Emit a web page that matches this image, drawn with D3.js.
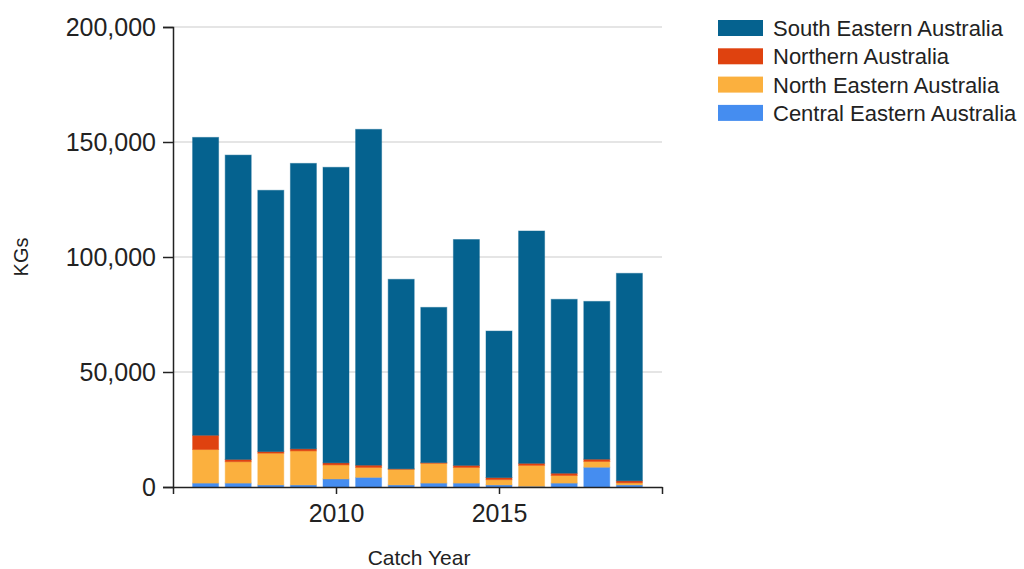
<!DOCTYPE html>
<html>
<head>
<meta charset="utf-8">
<script src="https://cdn.jsdelivr.net/npm/d3@7"></script>
<style>
  body { margin: 0; background: #fff; }
  svg { display: block; font-family: "Liberation Sans", Arial, sans-serif; }
</style>
</head>
<body>
<svg width="1024" height="569"></svg>
<script>
// catch by region, kg
const years = [2006, 2007, 2008, 2009, 2010, 2011, 2012, 2013, 2014, 2015, 2016, 2017, 2018, 2019];
const centralEastern = [1700, 1700, 900, 900, 3500, 4200, 900, 1700, 1700, 900, 300, 1700, 8600, 900];
const northEastern   = [14600, 9300, 13800, 14800, 6100, 4300, 6800, 8600, 6800, 2300, 9100, 3300, 2500, 900];
const northern       = [6200, 1000, 700, 900, 900, 1000, 200, 300, 900, 900, 900, 1000, 1000, 900];
const southEastern   = [129500, 132300, 113600, 124100, 128500, 146000, 82400, 67500, 98200, 63700, 101000, 75600, 68600, 90200];

const seriesNames = ["Central Eastern Australia", "North Eastern Australia", "Northern Australia", "South Eastern Australia"];
const seriesValues = [centralEastern, northEastern, northern, southEastern];
const colors = ["#458df0", "#fbb03e", "#df420f", "#05628f"];
const yTicks = [0, 50000, 100000, 150000, 200000];
const xTicks = [2005, 2010, 2015, 2020];
const xLabelled = [2010, 2015];

const svg = d3.select("svg");

const x = d3.scaleLinear().domain([2005, 2020]).range([173, 662]);
const y = d3.scaleLinear().domain([0, 200000]).range([487, 27]);
const barW = 26;

const rows = years.map((yr, i) => {
  const r = { year: yr };
  seriesNames.forEach((n, k) => r[n] = seriesValues[k][i]);
  return r;
});
const stacked = d3.stack().keys(seriesNames)(rows);

// gridlines
svg.append("g")
  .selectAll("line")
  .data(yTicks.slice(1))
  .join("line")
  .attr("x1", x(2005)).attr("x2", x(2020))
  .attr("y1", d => y(d)).attr("y2", d => y(d))
  .attr("stroke", "#dcdcdc").attr("stroke-width", 1.5);

// bars
svg.append("g")
  .selectAll("g")
  .data(stacked)
  .join("g")
  .attr("fill", (d, i) => colors[i])
  .attr("stroke", (d, i) => colors[i])
  .selectAll("rect")
  .data(d => d)
  .join("rect")
  .attr("x", d => x(d.data.year) - barW / 2)
  .attr("width", barW)
  .attr("y", d => y(d[1]))
  .attr("height", d => Math.max(0, y(d[0]) - y(d[1])))
  .attr("stroke-opacity", 0.45)
  .attr("stroke-width", 1);

// y axis
const yAxis = svg.append("g")
  .attr("transform", `translate(${x(2005)},0)`)
  .call(d3.axisLeft(y).tickValues(yTicks).tickFormat(d3.format(",")).tickSize(10).tickPadding(7));
yAxis.select(".domain").attr("stroke", "#222").attr("stroke-width", 1.5);
yAxis.selectAll(".tick line").attr("stroke", "#222").attr("stroke-width", 1.5);
yAxis.selectAll("text").attr("font-size", 25).attr("fill", "#222").attr("font-family", "Liberation Sans, Arial, sans-serif");

// x axis
const xAxis = svg.append("g")
  .attr("transform", `translate(0,${y(0)})`)
  .call(d3.axisBottom(x).tickValues(xTicks)
    .tickFormat(d => xLabelled.includes(d) ? d : "")
    .tickSize(7).tickSizeOuter(0).tickPadding(10));
xAxis.select(".domain").attr("stroke", "#222").attr("stroke-width", 1.5);
xAxis.selectAll(".tick line").attr("stroke", "#222").attr("stroke-width", 1.5);
xAxis.selectAll("text").attr("font-size", 25).attr("fill", "#222").attr("font-family", "Liberation Sans, Arial, sans-serif");

// axis titles
svg.append("text")
  .attr("transform", "translate(28,257) rotate(-90)")
  .attr("text-anchor", "middle")
  .attr("font-size", 20).attr("fill", "#222")
  .text("KGs");

svg.append("text")
  .attr("x", 419).attr("y", 565)
  .attr("text-anchor", "middle")
  .attr("font-size", 21).attr("fill", "#222")
  .text("Catch Year");

// legend, top series first
const legendOrder = seriesNames.map((n, i) => ({ name: n, color: colors[i] })).reverse();
const legend = svg.append("g")
  .selectAll("g")
  .data(legendOrder)
  .join("g")
  .attr("transform", (d, i) => `translate(718,${20 + i * 28.3})`);
legend.append("rect")
  .attr("width", 45).attr("height", 16)
  .attr("fill", d => d.color);
legend.append("text")
  .attr("x", 55).attr("y", 8)
  .attr("dy", "0.36em")
  .attr("font-size", 22).attr("fill", "#222")
  .text(d => d.name);
</script>
</body>
</html>
